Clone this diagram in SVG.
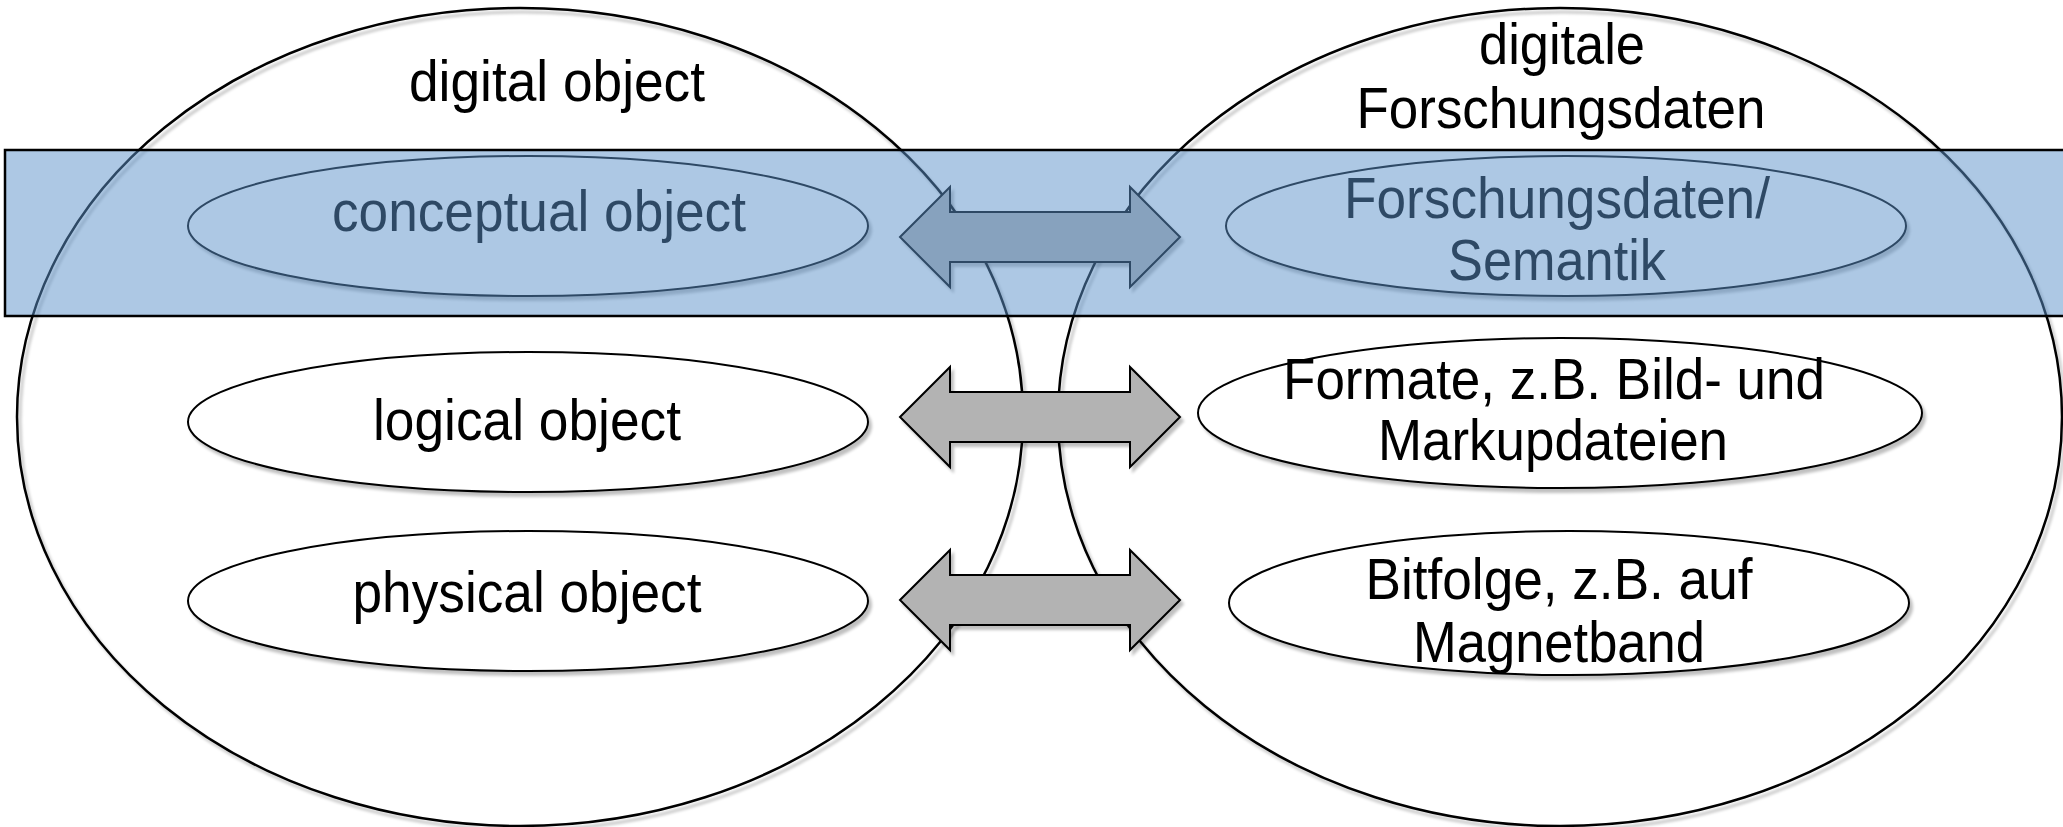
<svg xmlns="http://www.w3.org/2000/svg" width="2063" height="827" viewBox="0 0 2063 827">
<style>
.big{fill:none;stroke:#000;stroke-width:2.5}
.node{fill:#fff;stroke:#000;stroke-width:2}
.lbl{font-family:"Liberation Sans",Arial,sans-serif;font-size:57px;fill:#000;text-anchor:middle}
.arr{fill:#b3b3b3;stroke:#000;stroke-width:2;stroke-linejoin:miter}
.band{fill:#5c92c9;fill-opacity:0.5;stroke:#000;stroke-width:2.5}
</style>
<defs>
<filter id="sh" x="-5%" y="-5%" width="115%" height="125%">
<feGaussianBlur in="SourceAlpha" stdDeviation="1.5"/>
<feOffset dx="3" dy="4" result="o"/>
<feComponentTransfer><feFuncA type="linear" slope="0.25"/></feComponentTransfer>
<feMerge><feMergeNode/><feMergeNode in="SourceGraphic"/></feMerge>
</filter>
</defs>
<rect width="2063" height="827" fill="#fff"/>
<g id="digital-object">
<ellipse class="big" cx="520" cy="417" rx="503" ry="409" filter="url(#sh)"/>
<text class="lbl" x="557" y="101" textLength="296" lengthAdjust="spacingAndGlyphs">digital object</text>
</g>
<g id="digitale-forschungsdaten">
<ellipse class="big" cx="1560" cy="417" rx="502" ry="409" filter="url(#sh)"/>
<text class="lbl" x="1562" y="64" textLength="166" lengthAdjust="spacingAndGlyphs">digitale</text>
<text class="lbl" x="1561" y="128" textLength="409" lengthAdjust="spacingAndGlyphs">Forschungsdaten</text>
</g>
<g id="conceptual-object">
<ellipse class="node" cx="528" cy="226" rx="340" ry="70" filter="url(#sh)"/>
<text class="lbl" x="539" y="231" textLength="414" lengthAdjust="spacingAndGlyphs">conceptual object</text>
</g>
<g id="forschungsdaten-semantik">
<ellipse class="node" cx="1566" cy="226" rx="340" ry="70" filter="url(#sh)"/>
<text class="lbl" x="1557" y="218" textLength="426" lengthAdjust="spacingAndGlyphs">Forschungsdaten/</text>
<text class="lbl" x="1557" y="280" textLength="218" lengthAdjust="spacingAndGlyphs">Semantik</text>
</g>
<g id="logical-object">
<ellipse class="node" cx="528" cy="422" rx="340" ry="70" filter="url(#sh)"/>
<text class="lbl" x="527" y="440" textLength="308" lengthAdjust="spacingAndGlyphs">logical object</text>
</g>
<g id="formate">
<ellipse class="node" cx="1560" cy="413" rx="362" ry="75" filter="url(#sh)"/>
<text class="lbl" x="1554" y="399" textLength="542" lengthAdjust="spacingAndGlyphs">Formate, z.B. Bild- und</text>
<text class="lbl" x="1553" y="460" textLength="350" lengthAdjust="spacingAndGlyphs">Markupdateien</text>
</g>
<g id="physical-object">
<ellipse class="node" cx="528" cy="601" rx="340" ry="70" filter="url(#sh)"/>
<text class="lbl" x="527" y="612" textLength="349" lengthAdjust="spacingAndGlyphs">physical object</text>
</g>
<g id="bitfolge">
<ellipse class="node" cx="1569" cy="603" rx="340" ry="72" filter="url(#sh)"/>
<text class="lbl" x="1559" y="599" textLength="387" lengthAdjust="spacingAndGlyphs">Bitfolge, z.B. auf</text>
<text class="lbl" x="1559" y="662" textLength="292" lengthAdjust="spacingAndGlyphs">Magnetband</text>
</g>
<g id="connectors">
<path class="arr" filter="url(#sh)" d="M900,237 L950,187 L950,212 L1130,212 L1130,187 L1180,237 L1130,287 L1130,262 L950,262 L950,287 Z"/>
<path class="arr" filter="url(#sh)" d="M900,417 L950,367 L950,392 L1130,392 L1130,367 L1180,417 L1130,467 L1130,442 L950,442 L950,467 Z"/>
<path class="arr" filter="url(#sh)" d="M900,600 L950,550 L950,575 L1130,575 L1130,550 L1180,600 L1130,650 L1130,625 L950,625 L950,650 Z"/>
</g>
<g id="conceptual-layer">
<rect class="band" x="5" y="150" width="2070" height="166"/>
</g>
</svg>
